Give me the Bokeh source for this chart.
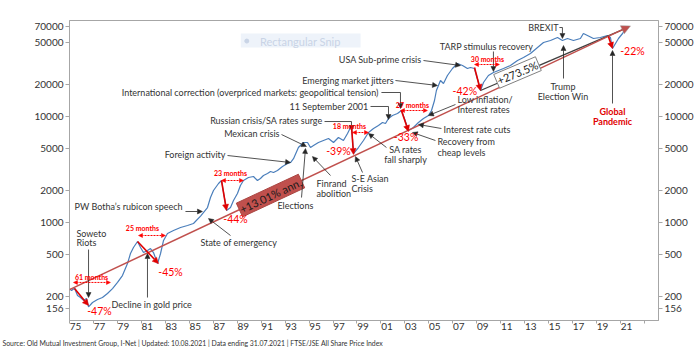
from bokeh.plotting import figure
from bokeh.models import Range1d, LogAxis, FixedTicker, Label, Arrow, NormalHead, Title
from bokeh.embed import file_html
from bokeh.resources import INLINE

# ---------------- data ----------------
years = [1975.00, 1975.17, 1975.42, 1975.67, 1975.92, 1976.17, 1976.42, 1976.59, 1976.92, 1977.34,
         1977.75, 1978.17, 1978.59, 1979.01, 1979.42, 1979.84, 1980.09, 1980.34, 1980.68, 1980.93,
         1981.18, 1981.51, 1981.76, 1982.01, 1982.35, 1982.60, 1982.85, 1983.18, 1983.68, 1984.27,
         1984.85, 1985.35, 1985.94, 1986.52, 1986.77, 1987.02, 1987.44, 1987.69, 1988.11, 1988.44,
         1988.69, 1989.02, 1989.27, 1989.52, 1989.94, 1990.36, 1990.69, 1990.94, 1991.19, 1991.53,
         1991.78, 1992.03, 1992.36, 1992.78, 1993.20, 1993.45, 1993.70, 1994.11, 1994.53, 1994.87,
         1995.12, 1995.37, 1995.78, 1996.20, 1996.62, 1997.04, 1997.45, 1997.87, 1998.21, 1998.54,
         1998.71, 1999.12, 1999.54, 1999.96, 2000.38, 2000.79, 2001.13, 2001.38, 2001.63, 2001.96,
         2002.38, 2002.71, 2002.96, 2003.30, 2003.71, 2004.13, 2004.55, 2004.97, 2005.22, 2005.47,
         2005.63, 2005.80, 2005.97, 2006.22, 2006.55, 2006.97, 2007.39, 2007.81, 2008.22, 2008.47,
         2008.81, 2009.14, 2009.31, 2009.56, 2009.97, 2010.39, 2010.81, 2011.23, 2011.81, 2012.40,
         2012.90, 2013.48, 2014.07, 2014.57, 2015.15, 2015.74, 2016.15, 2016.57, 2017.07, 2017.65,
         2017.90, 2018.24, 2018.74, 2019.32, 2019.91, 2020.16, 2020.33, 2020.58, 2020.83, 2021.17,
         2021.41, 2021.58]
levels = [238, 228, 240, 205, 196, 184, 192, 160, 176, 188,
          196, 214, 238, 272, 316, 410, 510, 581, 662, 581,
          521, 544, 568, 521, 410, 510, 677, 788, 840, 897,
          937, 978, 1150, 1385, 1721, 2004, 2333, 2490, 1298, 1385,
          1613, 1877, 2234, 2490, 2658, 2716, 2490, 2601, 2776, 2899,
          3028, 2963, 3094, 3380, 3600, 3681, 4000, 5100, 5684, 5684,
          5100, 5326, 5684, 5936, 6200, 5684, 6339, 5936, 6913, 8225,
          4477, 5100, 5936, 7065, 7706, 8225, 8779, 8590, 9575, 10220,
          10673, 11394, 9575, 7380, 7875, 8779, 9575, 10220, 11394, 14160,
          17592, 19608, 21858, 20475, 24371, 28373, 31623, 30275, 28373, 28996,
          28373, 20927, 17592, 20927, 24371, 26011, 27164, 28373, 30275, 33756,
          36025, 39296, 44771, 49910, 52140, 55650, 52140, 54450, 52140, 54450,
          60690, 58110, 54450, 55650, 58110, 55650, 43800, 48840, 54450, 60690,
          67640, 69000]

x_tick_positions = [1975.5 + 2 * i for i in range(24)]
x_tick_labels = ["75", "77", "79", "81", "83", "85", "87", "89", "91", "93", "95", "97",
                 "99", "01", "03", "05", "07", "09", "11", "13", "15", "17", "19", "21"]
x_tick_marks = [1975 + 2 * i for i in range(25)]
y_ticks = [156, 200, 500, 1000, 2000, 5000, 10000, 20000, 50000, 70000]
y_tick_labels = ["156", "200", "500", "1000", "2000", "5000", "10000", "20000", "50000", "70000"]

trend_start_year, trend_start_level, trend_rate, trend_end_year = 1975.0, 233, 0.1301, 2021.83
trend_label = "+13.01% ann."
gain_label = "+273.5%"

# annotation texts: (text, year, level, align)
black_texts = [
    ("Soweto", 1975.58, 788, "left"), ("Riots", 1975.58, 648, "left"),
    ("Decline in gold price", 1978.51, 168, "left"),
    ("PW Botha\u2019s rubicon speech", 1975.42, 1416, "left"),
    ("State of emergency", 1985.94, 648, "left"),
    ("Foreign activity", 1988.02, 4380, "right"),
    ("Mexican crisis", 1992.53, 6913, "right"),
    ("Russian crisis/SA rates surge", 1996.12, 9168, "right"),
    ("International correction (overpriced markets: geopolitical tension)", 2000.79, 16842, "right"),
    ("11 September 2001", 1999.96, 12430, "right"),
    ("Emerging market jitters", 2002.05, 21858, "right"),
    ("USA Sub-prime crisis", 2004.38, 34493, "right"),
    ("TARP stimulus recovery", 2009.81, 45760, "center"),
    ("BREXIT", 2015.82, 69120, "right"),
    ("Trump", 2016.2, 19188, "center"), ("Election Win", 2016.2, 15445, "center"),
    ("Low inflation/", 2007.39, 14470, "left"), ("Interest rates", 2007.39, 11640, "left"),
    ("Interest rate cuts", 2006.22, 7542, "left"),
    ("Recovery from", 2005.72, 5810, "left"), ("cheap levels", 2005.72, 4575, "left"),
    ("SA rates", 2003.05, 4885, "center"), ("fall sharply", 2003.05, 3930, "center"),
    ("S-E Asian", 1998.54, 2601, "left"), ("Crisis", 1998.54, 2094, "left"),
    ("Finrand", 1995.62, 2333, "left"), ("abolition", 1995.62, 1877, "left"),
    ("Elections", 1992.36, 1447, "left"),
]
black_arrows = [
    (1976.59, 556, 1976.59, 196), (1981.51, 196, 1981.51, 510), (1984.68, 1270, 1986.10, 1270),
    (1988.44, 754, 1986.60, 1091), (1988.19, 4287, 1993.45, 3681), (1992.70, 6761, 1994.78, 5212),
    (2002.21, 21858, 2005.72, 19608), (2004.55, 33756, 2007.64, 30275), (2010.39, 41040, 2010.39, 26580),
    (2016.24, 22830, 2016.24, 46760), (2020.33, 13265, 2020.33, 41940), (2007.22, 12980, 2004.97, 10220),
    (2006.05, 7706, 2004.13, 8404), (2005.55, 5936, 2003.63, 7065), (2001.46, 5100, 1999.96, 6913),
    (1999.46, 2963, 1998.87, 4195), (1996.79, 2776, 1995.28, 4195), (1994.37, 1721, 1994.70, 4991),
]
elbow_arrows = [
    ([1996.29, 1998.54, 1998.54], [8970, 8970, 7380]),
    ([2001.04, 2002.63, 2002.63], [16842, 16842, 11900]),
    ([2000.13, 2001.63, 2001.63], [12430, 12430, 9369]),
    ([2015.90, 2016.15, 2016.15], [69120, 69120, 54450]),
]
red_pct = [("-47%", 1977.50, 145), ("-45%", 1983.43, 345), ("-44%", 1988.86, 1091),
           ("-39%", 1997.45, 4777), ("-33%", 2003.10, 6339), ("-42%", 2008.00, 17592),
           ("-22%", 2021.99, 41940)]
drawdowns = [(1975.42, 238, 1976.59, 165), (1980.68, 662, 1982.43, 410), (1987.69, 2490, 1988.11, 1298),
             (1998.54, 8225, 1998.71, 4380), (2002.71, 11394, 2003.30, 7220), (2008.81, 28996, 2009.31, 17592),
             (2019.99, 56880, 2020.33, 43800)]
month_texts = [("61 months", 1976.84, 309), ("25 months", 1981.09, 878), ("23 months", 1988.44, 2963),
               ("18 months", 1998.37, 8050), ("27 months", 2003.63, 12980), ("30 months", 2009.89, 35250)]
month_spans = [(1975.33, 1978.42, 272), (1980.76, 1983.01, 754), (1987.69, 1989.52, 2490),
               (1998.62, 1999.96, 7065), (2002.63, 2004.88, 11394), (2008.81, 2010.89, 30950)]
pandemic_texts = [("Global", 2020.33, 11150), ("Pandemic", 2020.33, 8970)]
footnote = ("Source: Old Mutual Investment Group, I-Net  |  Updated: 10.08.2021  |  "
            "Data ending 31.07.2021  |  FTSE/JSE All Share Price Index")

FONT = "Lato"
TXT = "#333333"
RED = "#ff0000"
TREND = "#c0504d"
BLUE = "#4a7ebb"

p = figure(width=698, height=354, y_axis_type="log",
           x_range=Range1d(1975.0, 2024.17), y_range=Range1d(119, 80500),
           output_backend="svg", toolbar_location=None,
           min_border_left=69, min_border_right=40, min_border_top=20, min_border_bottom=34)
p.background_fill_color = "white"
p.border_fill_color = "white"
p.outline_line_color = "#a6a6a6"
p.grid.visible = False

# x axis
xa = p.xaxis[0]
xa.ticker = FixedTicker(ticks=x_tick_positions, minor_ticks=x_tick_marks)
xa.major_label_overrides = dict(zip(x_tick_positions, x_tick_labels))
xa.major_tick_line_color = None
xa.major_tick_out = 0
xa.major_tick_in = 0
xa.minor_tick_out = 3
xa.minor_tick_in = 0
xa.minor_tick_line_color = "#a6a6a6"
xa.axis_line_color = "#a6a6a6"
xa.major_label_standoff = -1
xa.major_label_text_font = FONT
xa.major_label_text_font_size = "10px"
xa.major_label_text_color = TXT

# y axes
y_over = dict(zip(y_ticks, y_tick_labels))
ya = p.yaxis[0]
ra = LogAxis()
p.add_layout(ra, "right")
for ax in (ya, ra):
    ax.ticker = FixedTicker(ticks=y_ticks)
    ax.major_label_overrides = y_over
    ax.major_tick_out = 4
    ax.major_tick_in = 0
    ax.minor_tick_line_color = None
    ax.major_tick_line_color = "#a6a6a6"
    ax.axis_line_color = "#a6a6a6"
    ax.major_label_standoff = 2
    ax.major_label_text_font = FONT
    ax.major_label_text_font_size = "10px"
    ax.major_label_text_color = TXT

# faint screenshot artefact
p.quad(left=1989.3, right=1999.3, top=60700, bottom=44800, fill_color="#eef3fa", line_color=None)
p.scatter([1989.8], [51500], size=4, color="#c9d4e6")
p.add_layout(Label(x=1990.9, y=51500, text="Rectangular Snip", text_font=FONT, text_font_size="11px",
                   text_color="#c9d4e6", text_baseline="middle"))

# index line
p.line(years, levels, line_color=BLUE, line_width=1.2)

# trend line
trend_end_level = trend_start_level * (1 + trend_rate) ** (trend_end_year - trend_start_year)
p.add_layout(Arrow(x_start=trend_start_year, y_start=trend_start_level, x_end=trend_end_year, y_end=trend_end_level,
                   line_color=TREND, line_width=1.5,
                   end=NormalHead(size=9, fill_color=TREND, line_color="#999999", line_width=0.5)))

# gain since 2009 low
i_low = min(range(len(years)), key=lambda i: levels[i] if 2008.5 < years[i] < 2010 else 1e9)
p.line([years[i_low], years[-1]], [levels[i_low], levels[-1]], line_color="#404040", line_width=1.3)

p.add_layout(Label(x=1991.78, y=1798, text=trend_label, angle=25, angle_units="deg",
                   text_align="center", text_baseline="middle", text_font=FONT, text_font_size="11px",
                   text_color="#1a1a1a", background_fill_color=TREND, border_line_color="#a94440",
                   padding=1))
p.add_layout(Label(x=2012.40, y=26010, text=gain_label, angle=23, angle_units="deg",
                   text_align="center", text_baseline="middle", text_font=FONT, text_font_size="11px",
                   text_color="#1a1a1a", background_fill_color="white", border_line_color="#808080",
                   padding=1))

# black annotations
for t, x, y, al in black_texts:
    p.add_layout(Label(x=x, y=y, text=t, text_align=al, text_baseline="middle",
                       text_font=FONT, text_font_size="9px", text_color=TXT))
for x0, y0, x1, y1 in black_arrows:
    p.add_layout(Arrow(x_start=x0, y_start=y0, x_end=x1, y_end=y1, line_color="#262626", line_width=0.8,
                       end=NormalHead(size=5, fill_color="#262626", line_color="#262626", line_width=0.5)))
for xs, ys in elbow_arrows:
    p.line(xs[:2], ys[:2], line_color="#262626", line_width=0.8)
    p.add_layout(Arrow(x_start=xs[1], y_start=ys[1], x_end=xs[2], y_end=ys[2], line_color="#262626",
                       line_width=0.8,
                       end=NormalHead(size=5, fill_color="#262626", line_color="#262626", line_width=0.5)))

# red annotations
for x0, y0, x1, y1 in drawdowns:
    p.add_layout(Arrow(x_start=x0, y_start=y0, x_end=x1, y_end=y1, line_color="#e00000", line_width=1.6,
                       end=NormalHead(size=6, fill_color="#e00000", line_color="#e00000", line_width=0.5)))
for x0, x1, y in month_spans:
    p.add_layout(Arrow(x_start=x0, y_start=y, x_end=x1, y_end=y, line_color=RED, line_width=1,
                       line_dash="2 1",
                       start=NormalHead(size=4, fill_color=RED, line_color=RED, line_width=0.5),
                       end=NormalHead(size=4, fill_color=RED, line_color=RED, line_width=0.5)))
for t, x, y in month_texts:
    p.add_layout(Label(x=x, y=y, text=t, text_align="center", text_baseline="middle",
                       text_font=FONT, text_font_size="7px", text_font_style="bold", text_color=RED))
for t, x, y in red_pct:
    p.add_layout(Label(x=x, y=y, text=t, text_align="center", text_baseline="middle",
                       text_font=FONT, text_font_size="10.5px", text_color=RED))
for t, x, y in pandemic_texts:
    p.add_layout(Label(x=x, y=y, text=t, text_align="center", text_baseline="middle",
                       text_font=FONT, text_font_size="9px", text_font_style="bold", text_color="#e00000"))

# footnote
p.add_layout(Title(text=footnote, align="left", offset=-67, standoff=8, text_font=FONT,
                   text_font_size="6.9px", text_font_style="normal", text_color="#333333"), "below")

open("out.html", "w").write(file_html(p, INLINE))
